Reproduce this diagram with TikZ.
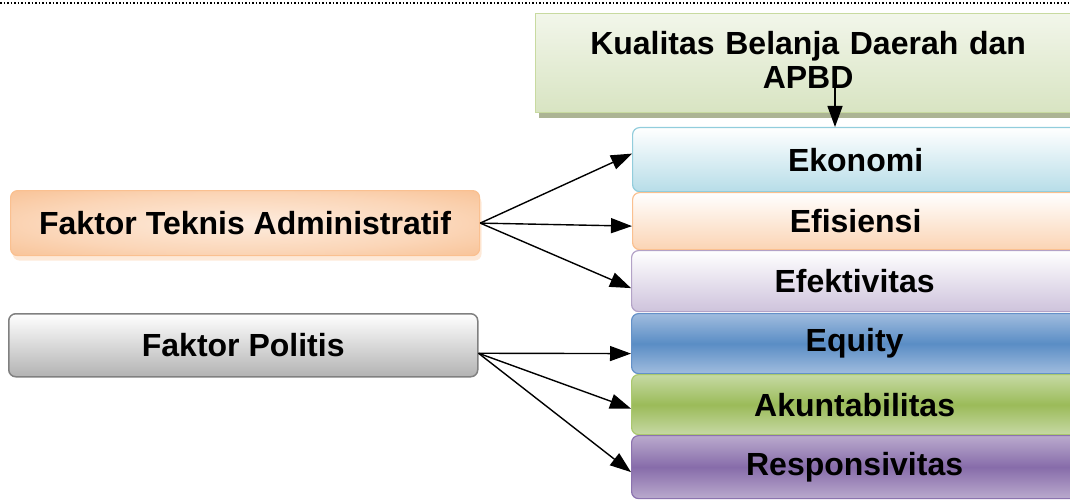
\documentclass[tikz,border=0pt]{standalone}
\usepackage{fontspec}
\setmainfont{Liberation Sans}
\usetikzlibrary{arrows.meta,shadows}
\definecolor{ekoB}{RGB}{146,205,220}
\definecolor{ekoF}{RGB}{183,221,232}
\definecolor{efiB}{RGB}{250,192,144}
\definecolor{efiF}{RGB}{251,212,180}
\definecolor{efkB}{RGB}{179,162,199}
\definecolor{efkF}{RGB}{206,195,220}
\definecolor{eqB}{RGB}{100,145,200}
\definecolor{eqM}{RGB}{90,141,197}
\definecolor{eqL}{RGB}{160,188,222}
\definecolor{akB}{RGB}{170,200,110}
\definecolor{akM}{RGB}{155,187,89}
\definecolor{akL}{RGB}{198,217,164}
\definecolor{reB}{RGB}{140,115,175}
\definecolor{reM}{RGB}{135,108,170}
\definecolor{reL}{RGB}{186,170,205}
\definecolor{kuB}{RGB}{200,218,160}
\definecolor{kuT}{RGB}{242,246,234}
\definecolor{kuF}{RGB}{216,228,194}
\definecolor{kuS}{RGB}{172,180,148}
\definecolor{teB}{RGB}{250,192,144}
\definecolor{teI}{RGB}{253,236,222}
\definecolor{teM}{RGB}{251,214,184}
\definecolor{teO}{RGB}{247,186,136}
\definecolor{poB}{RGB}{128,128,128}
\pgfdeclareradialshading{teshade}{\pgfpoint{0bp}{0bp}}{color(0bp)=(teI); color(22bp)=(teM); color(42bp)=(teO); color(72bp)=(teO)}
\begin{document}
\begin{tikzpicture}[x=1pt,y=1pt,
  box/.style={draw, line width=1.2pt, rounded corners=7pt, inner sep=0pt,
    font=\fontsize{32}{34}\selectfont\bfseries, anchor=north west},
  rbox/.style={box, minimum width=446pt},
  arr/.style={line width=1.4pt, -{Triangle[length=21pt,width=15pt]}},
  dotline/.style={line width=1.5pt, dash pattern=on 1.5pt off 2pt}]
\useasboundingbox (0,0) rectangle (1070,-500);

\coordinate (dl) at (0,-3);
\coordinate (dr) at (1070,-3);
\draw[dotline] (dl) -- (dr);

% top box
\node[box, rounded corners=0pt, draw=kuB, top color=kuT, bottom color=kuF,
  minimum width=545pt, minimum height=99pt,
  drop shadow={shadow xshift=3pt, shadow yshift=-5pt, fill=kuS, opacity=1}]
  (kual) at (535,-13) {};
\node[font=\fontsize{32}{34}\selectfont\bfseries, text width=540pt, align=center,
  inner sep=0pt, yshift=3pt] (kualt) at (kual.center) {Kualitas Belanja Daerah dan\\APBD};

% right boxes
\node[rbox, draw=ekoB, top color=white, bottom color=ekoF, minimum height=64pt]
  (eko) at (632,-127) {Ekonomi};
\node[rbox, draw=efiB, top color=white, bottom color=efiF, minimum height=57pt]
  (efi) at (632,-192) {Efisiensi};
\node[rbox, draw=efkB, top color=white, bottom color=efkF, minimum height=61pt]
  (efk) at (631,-250) {Efektivitas};
\node[rbox, draw=eqB, top color=eqL, bottom color=eqL, middle color=eqM, minimum height=60pt]
  (eq) at (631,-313) {Equity};
\node[rbox, draw=akB, top color=akL, bottom color=akL, middle color=akM, minimum height=60pt]
  (ak) at (631,-374) {Akuntabilitas};
\node[rbox, draw=reB, top color=reL, bottom color=reL, middle color=reM, minimum height=63pt]
  (re) at (631,-435) {Responsivitas};

% left boxes
\node[box, draw=teB, shading=teshade,
  minimum width=469pt, minimum height=65pt,
  drop shadow={shadow xshift=2pt, shadow yshift=-5pt, fill=teB, opacity=0.35}]
  (tek) at (10,-190) {Faktor Teknis Administratif};
\node[box, draw=poB, top color=white, bottom color=black!30, line width=1.5pt,
  minimum width=469pt, minimum height=63pt]
  (pol) at (8,-313) {Faktor Politis};

% arrows
\coordinate (ks) at (835,-70);
\draw[arr] (ks) -- (ks |- eko.north);

\draw[arr] (tek.east) -- ([yshift=6pt]eko.west);
\draw[arr] (tek.east) -- ([yshift=-5pt]efi.west);
\draw[arr] (tek.east) -- ([yshift=-7pt]efk.west);
\draw[arr] ([yshift=-8pt]pol.east) -- ([yshift=-10pt]eq.west);
\draw[arr] ([yshift=-8pt]pol.east) -- ([yshift=-4pt]ak.west);
\draw[arr] ([yshift=-8pt]pol.east) -- ([yshift=-5pt]re.west);
\end{tikzpicture}
\end{document}
